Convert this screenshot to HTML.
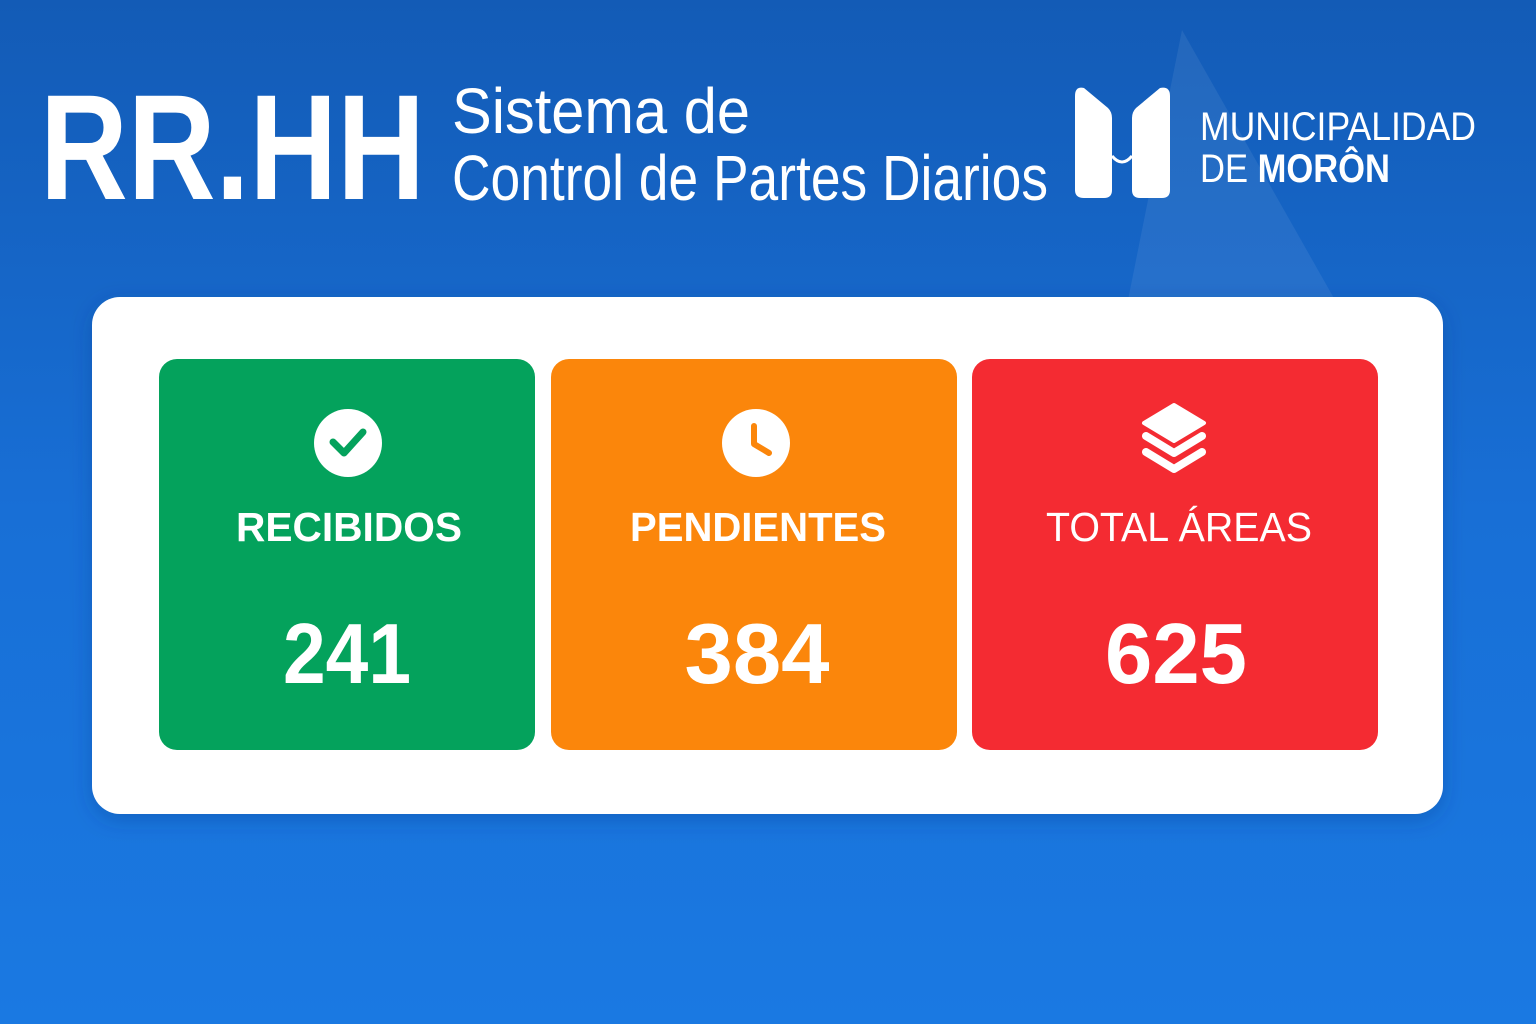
<!DOCTYPE html>
<html><head><meta charset="utf-8"><style>
html,body{margin:0;padding:0;width:1536px;height:1024px;overflow:hidden}
svg{display:block}
</style></head><body>
<svg width="1536" height="1024" viewBox="0 0 1536 1024" xmlns="http://www.w3.org/2000/svg" font-family="Liberation Sans, sans-serif">
<defs>
<linearGradient id="bg" x1="0" y1="0" x2="0" y2="1">
<stop offset="0" stop-color="#135bb6"/><stop offset="0.5" stop-color="#186fd6"/><stop offset="1" stop-color="#1a79e2"/>
</linearGradient>
<filter id="sh" x="-5%" y="-5%" width="110%" height="115%"><feDropShadow dx="0" dy="6" stdDeviation="10" flood-color="#0a3a80" flood-opacity="0.3"/></filter>
</defs>
<rect width="1536" height="1024" fill="url(#bg)"/>
<polygon points="1182,30 1335,300 1128,300" fill="#ffffff" opacity="0.07"/>
<text x="40" y="199" font-size="150" font-weight="bold" fill="#fff" textLength="385" lengthAdjust="spacingAndGlyphs">RR.HH</text>
<text x="452" y="133" font-size="64" fill="#fff" textLength="298" lengthAdjust="spacingAndGlyphs">Sistema de</text>
<text x="452" y="200" font-size="64" fill="#fff" textLength="596" lengthAdjust="spacingAndGlyphs">Control de Partes Diarios</text>
<path d="M1084,88 L1108,108 Q1112,112 1112,118 L1112,190 Q1112,198 1104,198 L1084,198 Q1075,198 1075,190 L1075,96 Q1075,86 1084,88 Z" fill="#fff"/>
<path d="M1160,88 L1136,108 Q1132,112 1132,118 L1132,190 Q1132,198 1140,198 L1162,198 Q1170,198 1170,190 L1170,96 Q1170,86 1160,88 Z" fill="#fff"/>
<path d="M1112,156 Q1122,168 1132,156" fill="none" stroke="#fff" stroke-width="3"/>
<text x="1200" y="140" font-size="40" fill="#fff" textLength="276" lengthAdjust="spacingAndGlyphs">MUNICIPALIDAD</text>
<text x="1200" y="182" font-size="40" fill="#fff" textLength="190" lengthAdjust="spacingAndGlyphs">DE <tspan font-weight="bold">MORÔN</tspan></text>
<rect x="92" y="297" width="1351" height="517" rx="28" fill="#fff" filter="url(#sh)"/>
<rect x="159" y="359" width="376" height="391" rx="18" fill="#04a25c"/>
<rect x="551" y="359" width="406" height="391" rx="18" fill="#fb860b"/>
<rect x="972" y="359" width="406" height="391" rx="18" fill="#f42b32"/>
<circle cx="348" cy="443" r="34" fill="#fff"/>
<polyline points="333,442 344,453 363,432" fill="none" stroke="#04a25c" stroke-width="7" stroke-linecap="round" stroke-linejoin="round"/>
<circle cx="756" cy="443" r="34" fill="#fff"/>
<polyline points="754,426 754,444 769,453" fill="none" stroke="#fb860b" stroke-width="6" stroke-linecap="round" stroke-linejoin="round"/>
<polygon points="1174,405 1204,423 1174,441 1144,423" fill="#fff" stroke="#fff" stroke-width="4" stroke-linejoin="round"/>
<polyline points="1146,436 1174,453 1202,436" fill="none" stroke="#fff" stroke-width="8" stroke-linejoin="round" stroke-linecap="round"/>
<polyline points="1146,452 1174,469 1202,452" fill="none" stroke="#fff" stroke-width="8" stroke-linejoin="round" stroke-linecap="round"/>
<g fill="#fff" text-anchor="middle">
<text x="349" y="541" font-size="41" font-weight="bold" textLength="226" lengthAdjust="spacingAndGlyphs">RECIBIDOS</text>
<text x="758" y="541" font-size="41" font-weight="bold" textLength="256" lengthAdjust="spacingAndGlyphs">PENDIENTES</text>
<text x="1179" y="541" font-size="41" textLength="266" lengthAdjust="spacingAndGlyphs">TOTAL ÁREAS</text>
<text x="347" y="683" font-size="85" font-weight="bold" textLength="128" lengthAdjust="spacingAndGlyphs">241</text>
<text x="757" y="683" font-size="85" font-weight="bold" textLength="145" lengthAdjust="spacingAndGlyphs">384</text>
<text x="1176" y="683" font-size="85" font-weight="bold" textLength="142" lengthAdjust="spacingAndGlyphs">625</text>
</g>
</svg>
</body></html>
